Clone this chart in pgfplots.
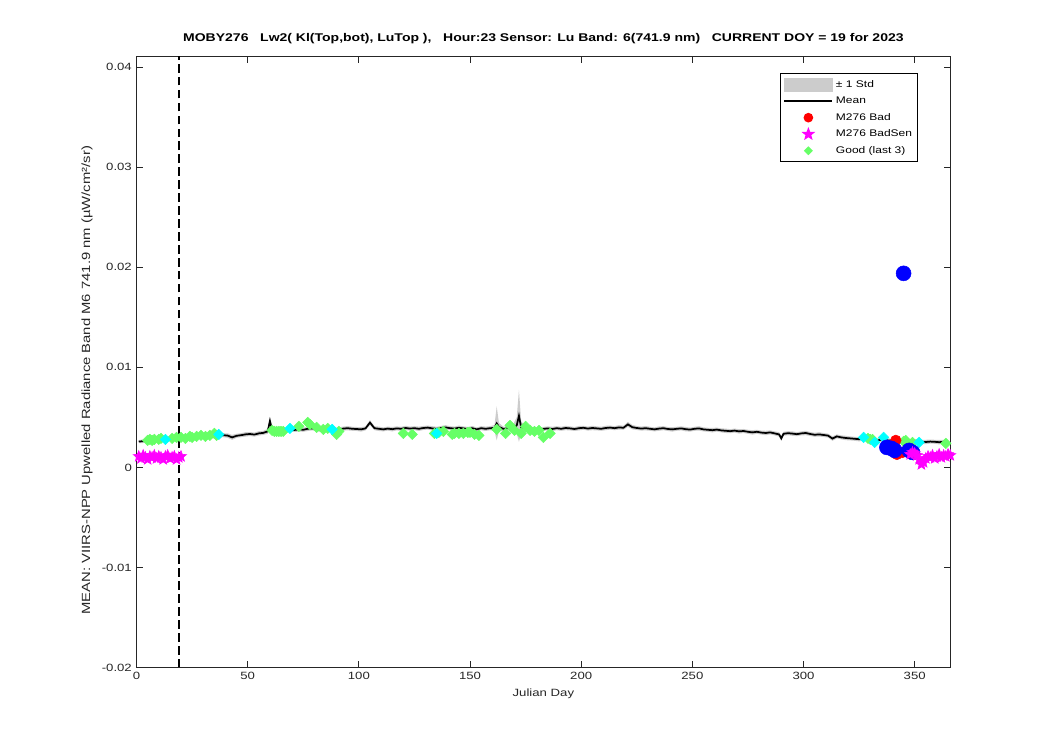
\documentclass[border=0pt]{standalone}
\usepackage{pgfplots}
\usepackage{pgfplotstable}
\pgfplotsset{compat=1.18}
\usepgfplotslibrary{fillbetween}
\usepackage{fontspec}
\setmainfont{Liberation Sans}[FakeStretch=1.25]

\definecolor{stdgray}{RGB}{204,204,204}
\definecolor{goodgreen}{RGB}{102,255,102}
\definecolor{axgray}{RGB}{38,38,38}
\definecolor{mag}{RGB}{255,0,255}
\definecolor{cyn}{RGB}{0,255,255}
\definecolor{blu}{RGB}{0,0,255}
\definecolor{rd}{RGB}{255,0,0}

% filled five-point star
\pgfdeclareplotmark{fstar}{%
  \pgfpathmoveto{\pgfqpointpolar{90}{\pgfplotmarksize}}%
  \pgfpathlineto{\pgfqpointpolar{126}{0.42\pgfplotmarksize}}%
  \pgfpathlineto{\pgfqpointpolar{162}{\pgfplotmarksize}}%
  \pgfpathlineto{\pgfqpointpolar{198}{0.42\pgfplotmarksize}}%
  \pgfpathlineto{\pgfqpointpolar{234}{\pgfplotmarksize}}%
  \pgfpathlineto{\pgfqpointpolar{270}{0.42\pgfplotmarksize}}%
  \pgfpathlineto{\pgfqpointpolar{306}{\pgfplotmarksize}}%
  \pgfpathlineto{\pgfqpointpolar{342}{0.42\pgfplotmarksize}}%
  \pgfpathlineto{\pgfqpointpolar{18}{\pgfplotmarksize}}%
  \pgfpathlineto{\pgfqpointpolar{54}{0.42\pgfplotmarksize}}%
  \pgfpathclose
  \pgfusepathqfillstroke}
% filled square diamond
\pgfdeclareplotmark{sqdiam}{%
  \pgfpathmoveto{\pgfqpoint{0pt}{\pgfplotmarksize}}%
  \pgfpathlineto{\pgfqpoint{\pgfplotmarksize}{0pt}}%
  \pgfpathlineto{\pgfqpoint{0pt}{-\pgfplotmarksize}}%
  \pgfpathlineto{\pgfqpoint{-\pgfplotmarksize}{0pt}}%
  \pgfpathclose
  \pgfusepathqfillstroke}

% day, mean, std
\pgfplotstableread{
d m s
1 0.00258 0.00015
3 0.00262 0.00018
5 0.00270 0.00020
7 0.00274 0.00018
9 0.00279 0.00020
11 0.00285 0.00020
13 0.00282 0.00022
15 0.00290 0.00020
17 0.00296 0.00020
19 0.00300 0.00022
21 0.00298 0.00020
23 0.00304 0.00020
25 0.00302 0.00022
27 0.00308 0.00020
29 0.00306 0.00020
31 0.00312 0.00022
33 0.00310 0.00020
35 0.00316 0.00022
37 0.00320 0.00020
39 0.00322 0.00020
41 0.00318 0.00022
43 0.00300 0.00025
45 0.00316 0.00020
47 0.00322 0.00020
49 0.00330 0.00022
51 0.00334 0.00020
53 0.00328 0.00020
55 0.00340 0.00022
57 0.00345 0.00020
59 0.00360 0.00025
60 0.00465 0.00030
61 0.00372 0.00022
63 0.00362 0.00020
65 0.00366 0.00020
67 0.00372 0.00022
69 0.00378 0.00020
71 0.00374 0.00020
73 0.00380 0.00022
75 0.00376 0.00020
77 0.00386 0.00022
79 0.00390 0.00020
81 0.00382 0.00020
83 0.00376 0.00022
85 0.00385 0.00020
87 0.00380 0.00020
89 0.00372 0.00022
91 0.00380 0.00020
93 0.00388 0.00020
95 0.00392 0.00022
97 0.00386 0.00020
99 0.00384 0.00020
101 0.00380 0.00022
103 0.00390 0.00020
105 0.00448 0.00025
107 0.00392 0.00020
109 0.00386 0.00022
111 0.00380 0.00020
113 0.00388 0.00020
115 0.00382 0.00022
117 0.00390 0.00020
119 0.00386 0.00020
121 0.00394 0.00022
123 0.00388 0.00020
125 0.00392 0.00020
127 0.00386 0.00022
129 0.00394 0.00020
131 0.00398 0.00020
133 0.00390 0.00022
135 0.00386 0.00020
137 0.00394 0.00020
139 0.00400 0.00022
141 0.00392 0.00020
143 0.00388 0.00020
145 0.00396 0.00022
147 0.00390 0.00020
149 0.00384 0.00020
151 0.00392 0.00022
153 0.00380 0.00020
155 0.00392 0.00020
157 0.00386 0.00022
159 0.00392 0.00020
161 0.00394 0.00030
162 0.00440 0.00170
163 0.00405 0.00040
165 0.00385 0.00022
167 0.00392 0.00020
169 0.00390 0.00025
171 0.00420 0.00080
172 0.00515 0.00260
173 0.00400 0.00060
175 0.00388 0.00022
177 0.00384 0.00020
179 0.00380 0.00020
181 0.00372 0.00022
183 0.00385 0.00020
185 0.00390 0.00020
187 0.00384 0.00022
189 0.00392 0.00020
191 0.00386 0.00020
193 0.00394 0.00022
195 0.00390 0.00020
197 0.00384 0.00020
199 0.00392 0.00022
201 0.00396 0.00020
203 0.00388 0.00020
205 0.00394 0.00022
207 0.00390 0.00020
209 0.00386 0.00020
211 0.00394 0.00022
213 0.00398 0.00020
215 0.00392 0.00020
217 0.00400 0.00022
219 0.00396 0.00020
221 0.00430 0.00025
223 0.00402 0.00022
225 0.00394 0.00020
227 0.00388 0.00020
229 0.00392 0.00022
231 0.00386 0.00020
233 0.00380 0.00020
235 0.00388 0.00022
237 0.00392 0.00020
239 0.00384 0.00020
241 0.00380 0.00022
243 0.00386 0.00020
245 0.00390 0.00020
247 0.00382 0.00022
249 0.00378 0.00020
251 0.00386 0.00020
253 0.00390 0.00022
255 0.00380 0.00020
257 0.00376 0.00020
259 0.00372 0.00022
261 0.00378 0.00020
263 0.00370 0.00020
265 0.00366 0.00022
267 0.00362 0.00020
269 0.00368 0.00020
271 0.00360 0.00022
273 0.00364 0.00020
275 0.00356 0.00020
277 0.00350 0.00022
279 0.00356 0.00020
281 0.00348 0.00020
283 0.00344 0.00022
285 0.00350 0.00020
287 0.00340 0.00020
289 0.00330 0.00022
290 0.00290 0.00025
291 0.00336 0.00020
293 0.00342 0.00020
295 0.00338 0.00022
297 0.00332 0.00020
299 0.00340 0.00020
301 0.00344 0.00022
303 0.00334 0.00020
305 0.00326 0.00020
307 0.00330 0.00022
309 0.00324 0.00020
311 0.00318 0.00020
313 0.00288 0.00022
315 0.00310 0.00020
317 0.00300 0.00020
319 0.00294 0.00022
321 0.00290 0.00020
323 0.00286 0.00020
325 0.00282 0.00022
327 0.00288 0.00020
329 0.00280 0.00020
331 0.00272 0.00022
333 0.00270 0.00020
335 0.00276 0.00020
337 0.00272 0.00022
339 0.00268 0.00020
341 0.00274 0.00020
343 0.00264 0.00022
345 0.00266 0.00020
347 0.00262 0.00020
349 0.00260 0.00022
351 0.00262 0.00020
353 0.00256 0.00020
355 0.00254 0.00022
357 0.00258 0.00020
359 0.00256 0.00020
361 0.00252 0.00022
363 0.00256 0.00020
365 0.00260 0.00018
}\meantab

\pgfplotstableread{
d v
5 0.0027
6 0.0028
7 0.0027
8 0.0028
10 0.0028
11 0.0029
16 0.0029
18 0.0030
20 0.0030
22 0.0029
24 0.0031
25 0.0030
27 0.0031
29 0.0032
31 0.0031
33 0.0032
35 0.0034
36 0.0032
61 0.0037
62 0.0036
63 0.0036
64 0.0036
65 0.0036
66 0.0036
73 0.0041
77 0.0045
78 0.0043
81 0.0040
84 0.0038
86 0.0039
90 0.0033
91 0.0036
120 0.0034
124 0.0033
134 0.0034
136 0.0035
138 0.0036
142 0.0033
143 0.0034
145 0.0034
147 0.0034
149 0.0035
150 0.0035
152 0.0033
154 0.0032
162 0.0038
166 0.0034
168 0.0042
170 0.0037
173 0.0034
175 0.0041
177 0.0037
179 0.0036
181 0.0037
183 0.0030
186 0.0034
329 0.0029
330 0.0028
331 0.0028
345 0.0026
346 0.0027
349 0.0025
364 0.0024
}\goodtab

\pgfplotstableread{
d v
13 0.0028
37 0.0033
69 0.0039
88 0.0038
135 0.0034
327 0.0030
332 0.0025
336 0.0030
352 0.0025
}\cyantab

\pgfplotstableread{
d v
1 0.0011
2 0.0009
3 0.0012
4 0.0010
5 0.0008
6 0.0011
7 0.0010
8 0.0012
9 0.0009
10 0.0011
11 0.0010
12 0.0008
13 0.0011
14 0.0012
15 0.0009
16 0.0010
17 0.0011
18 0.0008
19 0.0010
20 0.0011
348 0.0013
349 0.0015
350 0.0014
351 0.0012
352 0.0008
353 0.0003
354 0.0005
355 0.0009
356 0.0011
357 0.0010
358 0.0012
359 0.0009
360 0.0011
361 0.0013
362 0.0010
363 0.0012
364 0.0011
365 0.0013
366 0.0012
}\badsentab

\begin{document}
\begin{tikzpicture}
\begin{axis}[
  at={(102.4pt,61.9pt)}, anchor=south west,
  scale only axis,
  width=610.3pt, height=458.4pt,
  xmin=0, xmax=366,
  ymin=-0.02, ymax=0.0411,
  scaled y ticks=false,
  xtick={0,50,100,150,200,250,300,350},
  xticklabels={0,50,100,150,200,250,300,350},
  ytick={-0.02,-0.01,0,0.01,0.02,0.03,0.04},
  yticklabels={-0.02,-0.01,0,0.01,0.02,0.03,0.04},
  tick align=inside,
  major tick length=5pt,
  axis line style={axgray, line width=0.8pt},
  tick style={axgray, line width=0.8pt},
  ticklabel style={font=\fontsize{7.9}{9}\selectfont, text=axgray},
  title={MOBY276\ \ \ Lw2( Kl(Top,bot), LuTop ),\ \ \ Hour:23 Sensor: Lu Band: 6(741.9 nm)\ \ \ CURRENT DOY = 19 for 2023},
  title style={font=\bfseries\fontsize{8.4}{9}\selectfont, at={(0.5,1)}, anchor=base, yshift=5pt},
  xlabel={Julian Day},
  xlabel style={font=\fontsize{7.9}{9}\selectfont, text=axgray},
  ylabel={MEAN: VIIRS-NPP Upwelled Radiance Band M6 741.9 nm (µW/cm²/sr)},
  ylabel style={font=\fontsize{8.9}{10}\selectfont, text=axgray, at={(ticklabel cs:0.47)}},
  legend cell align=left,
  legend style={at={(0.9604,0.9726)}, anchor=north east, draw=black, line width=1pt,
    font=\fontsize{7.2}{8}\selectfont, row sep=0pt, inner xsep=2pt, inner ysep=2pt,
    nodes={text height=5.6pt, text depth=1.6pt, inner ysep=2.6pt, inner xsep=2pt}},
]
\addplot[name path=hi, draw=none, forget plot] table[x=d, y expr=\thisrow{m}+\thisrow{s}] {\meantab};
\addplot[name path=lo, draw=none, forget plot] table[x=d, y expr=\thisrow{m}-\thisrow{s}] {\meantab};
\addplot[stdgray, draw=none, forget plot] fill between[of=hi and lo];
\addplot[black, line width=1.3pt, forget plot] table[x=d, y=m] {\meantab};
\addplot[black, line width=1.2pt, dash pattern=on 6.5pt off 3.2pt, forget plot] coordinates {(19,-0.02) (19,0.0411)};
\addplot[only marks, mark=sqdiam, mark size=3.9pt, goodgreen, forget plot] table[x=d, y=v] {\goodtab};
\addplot[only marks, mark=sqdiam, mark size=3.9pt, cyn, forget plot] table[x=d, y=v] {\cyantab};
\addplot[only marks, mark=*, mark size=4pt, rd, forget plot] coordinates {(341.5,0.0027) (342,0.0013) (344.5,0.0015) (339.5,0.0022)};
\addplot[only marks, mark=*, mark size=5.6pt, blu, forget plot] coordinates {(337.5,0.0020) (339.5,0.0019) (341,0.0017) (345,0.0194) (347.5,0.0017) (349,0.0015)};
\addplot[only marks, mark=fstar, mark size=4.4pt, mag, forget plot, clip=false] table[x=d, y=v] {\badsentab};

\addlegendimage{legend image code/.code={\fill[stdgray] (0pt,-4.7pt) rectangle (36pt,4.7pt);}}
\addlegendentry{± 1 Std}
\addlegendimage{legend image code/.code={\draw[black, line width=1.4pt] (0pt,0pt) -- (36pt,0pt);}}
\addlegendentry{Mean}
\addlegendimage{legend image code/.code={\fill[rd] (18pt,0pt) circle (3.1pt);}}
\addlegendentry{M276 Bad}
\addlegendimage{legend image code/.code={\pgftransformshift{\pgfqpoint{18pt}{0pt}}\pgfsetfillcolor{mag}\pgfsetstrokecolor{mag}\pgfsetplotmarksize{4pt}\pgfuseplotmark{fstar}}}
\addlegendentry{M276 BadSen}
\addlegendimage{legend image code/.code={\pgftransformshift{\pgfqpoint{18pt}{0pt}}\pgfsetfillcolor{goodgreen}\pgfsetstrokecolor{goodgreen}\pgfsetplotmarksize{2.6pt}\pgfuseplotmark{sqdiam}}}
\addlegendentry{Good (last 3)}
\end{axis}
\pgfresetboundingbox
\path[use as bounding box] (0,0) rectangle (787.5pt,562.5pt);
\end{tikzpicture}
\end{document}
